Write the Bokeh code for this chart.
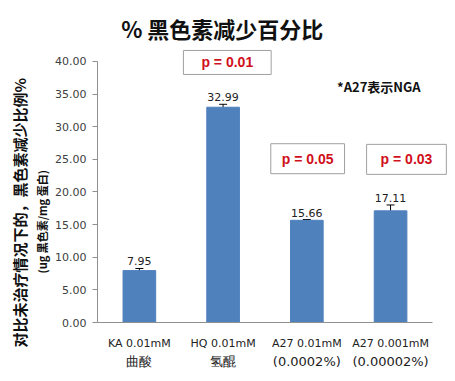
from bokeh.plotting import figure
from bokeh.models import (Range1d, FixedTicker, Label, Whisker, ColumnDataSource,
                          TeeHead, LinearAxis, Title)
from bokeh.core.properties import value
from bokeh.embed import file_html
from bokeh.resources import INLINE

# ---- data ----
labels_line1 = ["KA 0.01mM", "HQ 0.01mM", "A27 0.01mM", "A27 0.001mM"]
labels_line2 = ["曲酸", "氢醌", "(0.0002%)", "(0.00002%)"]
values = [7.95, 32.99, 15.66, 17.11]
errors = [0.33, 0.45, 0.12, 0.9]
p_values = ["p = 0.01", "p = 0.05", "p = 0.03"]
p_positions = [1.55, 2.51, 3.69]
p_heights = [39.85, 25.1, 25.0]
y_ticks = [0, 5, 10, 15, 20, 25, 30, 35, 40]

# box paddings (style only)
p_paddings = [(18, 4), (11, 7), (14, 7)]

xs = [i + 0.5 for i in range(len(values))]
src = ColumnDataSource(dict(
    x=xs, top=values,
    upper=[v + e for v, e in zip(values, errors)],
    lower=[v - e for v, e in zip(values, errors)],
    txt=["%.2f" % v for v in values],
))

p = figure(width=447, height=373, output_backend="svg", toolbar_location=None,
           x_range=Range1d(0, 4.18), y_range=Range1d(0, 47.66),
           min_border_left=97, min_border_right=0, min_border_top=11, min_border_bottom=51)
p.outline_line_color = None
p.xgrid.visible = False
p.ygrid.visible = False
p.background_fill_color = "white"

p.vbar(x="x", top="top", width=0.39, bottom=0, source=src, color="#4F81BD")
p.add_layout(Whisker(base="x", upper="upper", lower="lower", source=src,
                     line_color="black", line_width=1,
                     upper_head=TeeHead(size=8, line_color="black"),
                     lower_head=TeeHead(size=8, line_color="black")))

p.text(x="x", y="upper", text="txt", source=src, text_align="center",
       text_baseline="bottom", y_offset=-3, text_font=value("DejaVu Sans"),
       text_font_size="11px", text_color="#222222")

# y axis
p.yaxis.ticker = FixedTicker(ticks=y_ticks)
p.yaxis.bounds = (0, 40)
p.yaxis.major_label_overrides = {t: "%.2f" % t for t in y_ticks}
p.yaxis.major_label_text_font = "DejaVu Sans"
p.yaxis.major_label_text_font_size = "11px"
p.yaxis.major_label_text_color = "#404040"
p.yaxis.axis_line_color = "#909090"
p.yaxis.major_tick_line_color = "#909090"
p.yaxis.major_tick_out = 5
p.yaxis.major_tick_in = 0
p.yaxis.minor_tick_line_color = None
p.yaxis.major_label_standoff = 6

# x axis (first line of category labels)
p.xaxis.ticker = FixedTicker(ticks=xs)
p.xaxis.bounds = (0, 4)
p.xaxis.major_label_overrides = {x: l for x, l in zip(xs, labels_line1)}
p.xaxis.major_label_text_font = "DejaVu Sans"
p.xaxis.major_label_text_font_size = "11px"
p.xaxis.major_label_text_color = "#222222"
p.xaxis.axis_line_color = "#909090"
p.xaxis.major_tick_line_color = None
p.xaxis.major_tick_out = 0
p.xaxis.major_tick_in = 0
p.xaxis.minor_tick_line_color = None
p.xaxis.major_label_standoff = 14

# second line of category labels
x2 = LinearAxis(ticker=FixedTicker(ticks=xs), bounds=(0, 4),
                major_label_overrides={x: l for x, l in zip(xs, labels_line2)},
                major_label_text_font="DejaVu Sans", major_label_text_font_size="13px",
                major_label_text_color="#222222", axis_line_color=None,
                major_tick_line_color=None, major_tick_out=0, major_tick_in=0,
                minor_tick_line_color=None, major_label_standoff=1)
p.add_layout(x2, "below")

# y-axis titles (two lines)
p.add_layout(Title(text="(ug 黑色素/mg 蛋白)", align="left", offset=49,
                   text_font="Noto Sans CJK SC", text_font_size="11px",
                   text_font_style="bold", text_color="#111111", standoff=5), "left")
p.add_layout(Title(text="对比未治疗情况下的，黑色素减少比例%", align="left", offset=-25,
                   text_font="Noto Sans CJK SC", text_font_size="15px",
                   text_font_style="bold", text_color="#111111", standoff=0), "left")

# chart title
p.add_layout(Label(x=1.49, y=45.1, text="% 黑色素减少百分比", text_align="center",
                   text_baseline="middle", text_font="Noto Sans CJK SC",
                   text_font_size="22px", text_font_style="bold", text_color="#111111"))

# note
p.add_layout(Label(x=3.36, y=36.2, text="*A27表示NGA", text_align="center",
                   text_baseline="middle", text_font="Noto Sans CJK SC",
                   text_font_size="13px", text_font_style="bold", text_color="#111111"))

# p-value boxes
for px, py, t, pad in zip(p_positions, p_heights, p_values, p_paddings):
    p.add_layout(Label(x=px, y=py, text=t, text_align="center", text_baseline="middle",
                       text_font="Liberation Sans", text_font_size="14px",
                       text_font_style="bold", text_color="#D0101A",
                       background_fill_color="white", border_line_color="#A0A0A0",
                       padding=pad))

open("out.html", "w").write(file_html(p, INLINE))
